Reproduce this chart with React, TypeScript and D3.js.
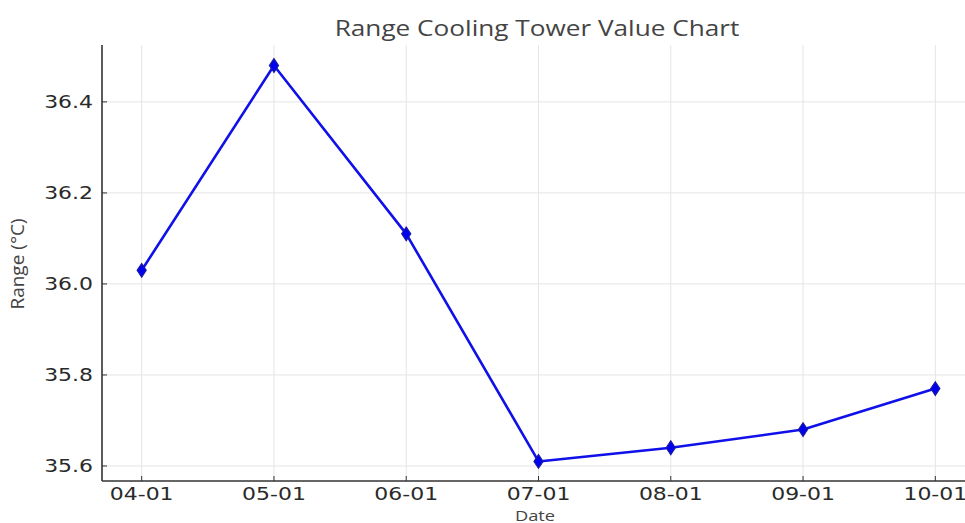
import React, { useEffect, useRef } from "react";
import * as d3 from "d3";

const dates = ["04-01", "05-01", "06-01", "07-01", "08-01", "09-01", "10-01"];
const rangeValues = [36.03, 36.48, 36.11, 35.61, 35.64, 35.68, 35.77];
const yTicks = [35.6, 35.8, 36.0, 36.2, 36.4];

const W = 965;
const H = 523;
const STRETCH = 1.22;

export default function App() {
  const ref = useRef<SVGSVGElement>(null);

  useEffect(() => {
    const svg = d3.select(ref.current);
    svg.selectAll("*").remove();

    const left = 102;
    const right = 975;
    const top = 45;
    const bottom = 481;

    // matplotlib-like 5% padding on x
    const span = right - left;
    const x = d3
      .scaleLinear()
      .domain([0, dates.length - 1])
      .range([left + span * 0.05 / 1.1, right - span * 0.05 / 1.1]);
    const y = d3.scaleLinear().domain([35.567, 36.525]).range([bottom, top]);

    // grid
    const grid = svg.append("g").attr("stroke", "#e4e4e4").attr("stroke-width", 1);
    dates.forEach((_, i) => {
      grid.append("line")
        .attr("x1", x(i)).attr("x2", x(i))
        .attr("y1", top).attr("y2", bottom);
    });
    yTicks.forEach(v => {
      grid.append("line")
        .attr("x1", left).attr("x2", right)
        .attr("y1", y(v)).attr("y2", y(v));
    });

    // spines
    svg.append("line")
      .attr("x1", left).attr("x2", left)
      .attr("y1", top).attr("y2", bottom)
      .attr("stroke", "#333").attr("stroke-width", 1.6);
    svg.append("line")
      .attr("x1", left).attr("x2", right)
      .attr("y1", bottom).attr("y2", bottom)
      .attr("stroke", "#333").attr("stroke-width", 1.6);

    // y ticks
    yTicks.forEach(v => {
      svg.append("line")
        .attr("x1", left).attr("x2", left + 5)
        .attr("y1", y(v)).attr("y2", y(v))
        .attr("stroke", "#333").attr("stroke-width", 1);
      svg.append("g")
        .attr("transform", `translate(${left - 9},${y(v)}) scale(${STRETCH},1)`)
        .append("text")
        .attr("text-anchor", "end")
        .attr("dominant-baseline", "central")
        .attr("font-family", "DejaVu Sans")
        .attr("font-size", 18)
        .attr("fill", "#2a2a2a")
        .text(v.toFixed(1));
    });

    // x ticks
    dates.forEach((d, i) => {
      svg.append("line")
        .attr("x1", x(i)).attr("x2", x(i))
        .attr("y1", bottom).attr("y2", bottom - 5)
        .attr("stroke", "#333").attr("stroke-width", 1);
      svg.append("g")
        .attr("transform", `translate(${x(i)},500) scale(${STRETCH},1)`)
        .append("text")
        .attr("text-anchor", "middle")
        .attr("font-family", "DejaVu Sans")
        .attr("font-size", 18)
        .attr("fill", "#2a2a2a")
        .text(d);
    });

    // line
    const line = d3.line<number>()
      .x((_, i) => x(i))
      .y(v => y(v));
    svg.append("path")
      .datum(rangeValues)
      .attr("d", line)
      .attr("fill", "none")
      .attr("stroke", "#1010e8")
      .attr("stroke-width", 2.6)
      .attr("stroke-linejoin", "round");

    const diamond = d3.symbol().type(d3.symbolDiamond).size(55);
    rangeValues.forEach((v, i) => {
      svg.append("path")
        .attr("d", diamond)
        .attr("transform", `translate(${x(i)},${y(v)}) scale(1.15,1)`)
        .attr("fill", "#0000ee")
        .attr("stroke", "#1a1aa0")
        .attr("stroke-width", 1);
    });

    // title
    svg.append("g")
      .attr("transform", `translate(537,36) scale(1.19,1)`)
      .append("text")
      .attr("text-anchor", "middle")
      .attr("font-family", "Open Sans")
      .attr("font-size", 22)
      .attr("fill", "#444")
      .text("Range Cooling Tower Value Chart");

    // axis labels
    svg.append("g")
      .attr("transform", `translate(535,521) scale(${STRETCH},1)`)
      .append("text")
      .attr("text-anchor", "middle")
      .attr("font-family", "Open Sans")
      .attr("font-size", 15)
      .attr("fill", "#444")
      .text("Date");

    svg.append("text")
      .attr("transform", "translate(24,264) rotate(-90)")
      .attr("text-anchor", "middle")
      .attr("font-family", "Open Sans")
      .attr("font-size", 19)
      .attr("fill", "#444")
      .text("Range (°C)");
  }, []);

  return (
    <svg
      ref={ref}
      width={W}
      height={H}
      style={{ position: "absolute", left: 0, top: 0, background: "#fff" }}
    />
  );
}
